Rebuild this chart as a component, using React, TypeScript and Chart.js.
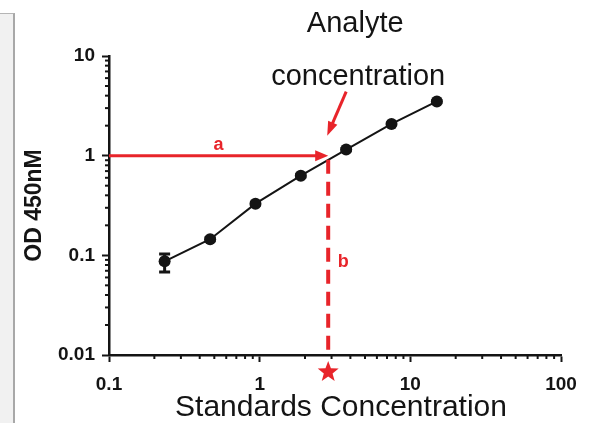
import { useEffect, useRef } from "react";
import { Chart, registerables } from "chart.js";

Chart.register(...registerables);

// ---- data ----
const concentrations = [0.234, 0.469, 0.938, 1.875, 3.75, 7.5, 15];
const odValues = [0.087, 0.145, 0.33, 0.63, 1.15, 2.08, 3.5];
const odErrorHigh = [0.103, 0.15, 0.34, 0.65, 1.18, 2.12, 3.56];
const odErrorLow = [0.068, 0.14, 0.32, 0.61, 1.12, 2.04, 3.44];
const xMajorTicks = [0.1, 1, 10, 100];
const yMajorTicks = [0.01, 0.1, 1, 10];
const xTickLabels = ["0.1", "1", "10", "100"];
const yTickLabels = ["0.01", "0.1", "1", "10"];
const analyteOD = [1];
const analyteConcentration = [2.85];

const FONT = "'Liberation Sans', Arial, Helvetica, sans-serif";
const RED = "#e8242a";
const INK = "#141414";

function withMinors(majors: number[]): number[] {
  const out: number[] = [];
  for (let i = 0; i < majors.length; i++) {
    out.push(majors[i]);
    if (i < majors.length - 1) {
      for (let k = 2; k <= 9; k++) out.push(k * majors[i]);
    }
  }
  return out;
}

function majorIndex(v: number, majors: number[]): number {
  return majors.findIndex((m) => Math.abs(Math.log10(v) - Math.log10(m)) < 1e-6);
}

function drawArrowHead(ctx: CanvasRenderingContext2D, x0: number, y0: number, x1: number, y1: number, len: number, half: number) {
  const ang = Math.atan2(y1 - y0, x1 - x0);
  ctx.beginPath();
  ctx.moveTo(x1, y1);
  ctx.lineTo(x1 - len * Math.cos(ang) + half * Math.sin(ang), y1 - len * Math.sin(ang) - half * Math.cos(ang));
  ctx.lineTo(x1 - len * Math.cos(ang) - half * Math.sin(ang), y1 - len * Math.sin(ang) + half * Math.cos(ang));
  ctx.closePath();
  ctx.fill();
}

const annotations = {
  id: "annotations",
  afterDatasetsDraw(chart: any) {
    const ctx: CanvasRenderingContext2D = chart.ctx;
    const xs = chart.scales.x;
    const ys = chart.scales.y;
    const area = chart.chartArea;
    ctx.save();

    // minor ticks
    ctx.strokeStyle = INK;
    ctx.lineWidth = 2;
    withMinors(xMajorTicks).forEach((v) => {
      if (majorIndex(v, xMajorTicks) >= 0) return;
      const px = xs.getPixelForValue(v);
      ctx.beginPath();
      ctx.moveTo(px, area.bottom);
      ctx.lineTo(px, area.bottom + 4);
      ctx.stroke();
    });
    withMinors(yMajorTicks).forEach((v) => {
      if (majorIndex(v, yMajorTicks) >= 0) return;
      const py = ys.getPixelForValue(v);
      ctx.beginPath();
      ctx.moveTo(area.left, py);
      ctx.lineTo(area.left - 4, py);
      ctx.stroke();
    });

    // error bars
    ctx.strokeStyle = INK;
    ctx.lineWidth = 3;
    concentrations.forEach((c, i) => {
      const px = xs.getPixelForValue(c);
      const hi = ys.getPixelForValue(odErrorHigh[i]);
      const lo = ys.getPixelForValue(odErrorLow[i]);
      ctx.beginPath();
      ctx.moveTo(px, hi);
      ctx.lineTo(px, lo);
      ctx.moveTo(px - 5.5, hi);
      ctx.lineTo(px + 5.5, hi);
      ctx.moveTo(px - 5.5, lo);
      ctx.lineTo(px + 5.5, lo);
      ctx.stroke();
    });

    const ax = xs.getPixelForValue(analyteConcentration[0]);
    const ay = ys.getPixelForValue(analyteOD[0]);
    const x0 = xs.getPixelForValue(xMajorTicks[0]);
    const yBottom = ys.getPixelForValue(yMajorTicks[0]);

    // horizontal arrow a
    ctx.strokeStyle = RED;
    ctx.fillStyle = RED;
    ctx.lineWidth = 3;
    ctx.beginPath();
    ctx.moveTo(x0, ay);
    ctx.lineTo(ax - 10, ay);
    ctx.stroke();
    drawArrowHead(ctx, x0, ay, ax, ay, 13, 5.5);

    // vertical dashed b
    ctx.lineWidth = 4;
    ctx.setLineDash([14, 8]);
    ctx.beginPath();
    ctx.moveTo(ax, ay + 4);
    ctx.lineTo(ax, yBottom - 2);
    ctx.stroke();
    ctx.setLineDash([]);

    // slanted arrow from label
    ctx.lineWidth = 3;
    const sx = ax + 18, sy = ay - 64, tx = ax - 1, ty = ay - 20;
    ctx.beginPath();
    ctx.moveTo(sx, sy);
    ctx.lineTo(tx + (sx - tx) * 0.25, ty + (sy - ty) * 0.25);
    ctx.stroke();
    drawArrowHead(ctx, sx, sy, tx, ty, 14, 5);

    // star
    const cx = ax, cy = yBottom + 17;
    const ro = 11, ri = 4.6;
    ctx.beginPath();
    for (let k = 0; k < 10; k++) {
      const r = k % 2 === 0 ? ro : ri;
      const ang = -Math.PI / 2 + (k * Math.PI) / 5;
      const px = cx + r * Math.cos(ang);
      const py = cy + r * Math.sin(ang);
      if (k === 0) ctx.moveTo(px, py);
      else ctx.lineTo(px, py);
    }
    ctx.closePath();
    ctx.fill();

    // labels a, b
    ctx.font = `bold 18px ${FONT}`;
    ctx.textAlign = "center";
    ctx.textBaseline = "middle";
    ctx.fillText("a", (x0 + ax) / 2, ay - 11);
    ctx.fillText("b", ax + 15, (ay + yBottom) / 2 + 7);

    // annotation text
    ctx.fillStyle = INK;
    ctx.font = `29px ${FONT}`;
    ctx.fillText("Analyte", ax + 27, 24);
    ctx.fillText("concentration", ax + 30, 77);

    // x axis title
    ctx.font = `30px ${FONT}`;
    ctx.fillText("Standards Concentration", 341, 408);

    ctx.restore();
  },
};

export default function App() {
  const ref = useRef<HTMLCanvasElement | null>(null);

  useEffect(() => {
    if (!ref.current) return;
    const xAll = withMinors(xMajorTicks);
    const yAll = withMinors(yMajorTicks);
    const chart = new Chart(ref.current, {
      type: "line",
      data: {
        datasets: [
          {
            data: concentrations.map((c, i) => ({ x: c, y: odValues[i] })),
            borderColor: INK,
            borderWidth: 2,
            pointRadius: 6,
            pointBackgroundColor: INK,
            pointBorderWidth: 0,
            tension: 0,
          },
        ],
      },
      options: {
        animation: false,
        responsive: false,
        devicePixelRatio: 1,
        layout: { padding: { top: 56, right: 42, left: 0, bottom: 0 } },
        plugins: { legend: { display: false }, tooltip: { enabled: false } },
        scales: {
          x: {
            type: "logarithmic",
            position: "bottom",
            min: 0.1,
            max: 100,
            afterBuildTicks: (scale: any) => {
              scale.ticks = xAll.map((v) => ({ value: v }));
            },
            afterFit: (scale: any) => {
              scale.height = 68;
            },
            border: { display: true, color: INK, width: 2.5 },
            grid: {
              display: true,
              drawOnChartArea: false,
              drawTicks: true,
              tickLength: 7,
              tickWidth: 2,
              tickColor: (c: any) => (majorIndex(c.tick.value, xMajorTicks) >= 0 ? INK : "rgba(0,0,0,0)"),
            },
            ticks: {
              autoSkip: false,
              maxRotation: 0,
              minRotation: 0,
              padding: 11,
              color: INK,
              font: { family: FONT, size: 19, weight: "bold" },
              callback: (v: any) => {
                const i = majorIndex(Number(v), xMajorTicks);
                return i >= 0 ? xTickLabels[i] : "";
              },
            },
          },
          y: {
            type: "logarithmic",
            position: "left",
            min: 0.01,
            max: 10,
            afterBuildTicks: (scale: any) => {
              scale.ticks = yAll.map((v) => ({ value: v }));
            },
            afterFit: (scale: any) => {
              scale.width = 109;
            },
            border: { display: true, color: INK, width: 2.5 },
            grid: {
              display: true,
              drawOnChartArea: false,
              drawTicks: true,
              tickLength: 7,
              tickWidth: 2,
              tickColor: (c: any) => (majorIndex(c.tick.value, yMajorTicks) >= 0 ? INK : "rgba(0,0,0,0)"),
            },
            ticks: {
              autoSkip: false,
              padding: 7,
              color: INK,
              font: { family: FONT, size: 19, weight: "bold" },
              callback: (v: any) => {
                const i = majorIndex(Number(v), yMajorTicks);
                return i >= 0 ? yTickLabels[i] : "";
              },
            },
            title: {
              display: true,
              text: "OD 450nM",
              color: INK,
              font: { family: FONT, size: 23, weight: "bold" },
              padding: { top: 21, bottom: 0 },
            },
          },
        },
      },
      plugins: [annotations],
    } as any);
    return () => chart.destroy();
  }, []);

  return (
    <div style={{ position: "fixed", left: 0, top: 0, width: 603, height: 423, background: "#fff", overflow: "hidden" }}>
      <div
        style={{
          position: "absolute",
          left: 0,
          top: 13,
          width: 13,
          height: 420,
          background: "#f1f1f1",
          borderTop: "1px solid #b5b5b5",
          borderRight: "2px solid #a8a8a8",
        }}
      />
      <canvas ref={ref} width={603} height={423} style={{ position: "absolute", left: 0, top: 0, width: 603, height: 423 }} />
    </div>
  );
}
